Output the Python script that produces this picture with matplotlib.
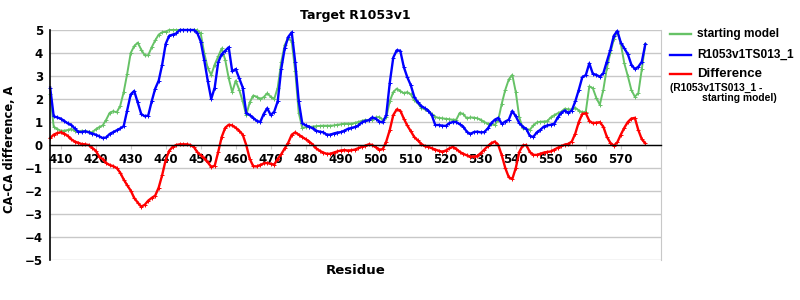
import numpy as np
import matplotlib
matplotlib.use('Agg')
import matplotlib.pyplot as plt
from matplotlib.lines import Line2D

# residue numbers and CA-CA differences
residues = np.arange(407, 578)

starting_model = [
    2.2, 0.8, 0.7, 0.62, 0.62, 0.65, 0.7, 0.62, 0.58, 0.62,
    0.6, 0.58, 0.55, 0.68, 0.78, 0.85, 1.1, 1.4, 1.47, 1.42,
    1.7, 2.3, 3.1, 4.0, 4.3, 4.45, 4.15, 3.9, 3.9, 4.25,
    4.55, 4.8, 4.9, 4.93, 5.0, 5.0, 5.0, 5.0, 5.0, 5.0,
    5.0, 5.0, 5.0, 4.85, 4.0, 3.35, 3.05, 3.5, 3.85, 4.2,
    3.7, 2.9, 2.3, 2.8, 2.4, 1.9, 1.3, 1.85, 2.15, 2.1,
    2.0, 2.08, 2.25, 2.1, 2.0, 2.5, 3.6, 4.35, 4.65, 4.5,
    3.2, 1.4, 0.75, 0.77, 0.78, 0.8, 0.82, 0.83, 0.84, 0.84,
    0.84, 0.85, 0.88, 0.9, 0.93, 0.93, 0.93, 0.96, 1.0, 1.05,
    1.09, 1.07, 1.1, 1.2, 1.22, 1.1, 1.2, 1.9, 2.3, 2.45,
    2.35, 2.25, 2.3, 2.2, 1.95, 1.82, 1.62, 1.55, 1.48, 1.35,
    1.22, 1.18, 1.16, 1.14, 1.12, 1.1, 1.1, 1.4, 1.35, 1.16,
    1.2, 1.19, 1.16, 1.1, 1.0, 0.93, 0.9, 0.87, 1.1, 1.8,
    2.4, 2.85, 3.05, 2.3, 1.2, 0.72, 0.7, 0.66, 0.85, 0.98,
    1.01, 1.02, 1.04, 1.2, 1.3, 1.38, 1.45, 1.58, 1.55, 1.55,
    1.62, 1.5, 1.42, 1.45, 2.55, 2.47, 2.05, 1.75, 2.4, 3.33,
    4.0, 4.6, 4.93, 4.4, 3.55, 3.0, 2.4, 2.1, 2.25, 3.3,
    4.4,
]

model_ts013 = [
    2.5, 1.25, 1.2, 1.15, 1.05, 0.94, 0.88, 0.72, 0.58, 0.56,
    0.6, 0.55, 0.5, 0.45, 0.38, 0.3, 0.33, 0.48, 0.56, 0.64,
    0.72, 0.82, 1.5, 2.2, 2.35, 1.85, 1.35, 1.25, 1.28, 1.9,
    2.45, 2.8, 3.5, 4.4, 4.75, 4.8, 4.85, 5.0, 5.0, 5.0,
    5.0, 5.0, 4.88, 4.5, 3.7, 2.8, 2.0, 2.5, 3.6, 3.95,
    4.1, 4.25, 3.2, 3.3, 2.9, 2.5, 1.4, 1.3, 1.18, 1.05,
    1.0, 1.35, 1.6, 1.3, 1.45, 1.9, 3.3, 4.2, 4.7, 4.9,
    3.6, 1.9, 0.95, 0.85, 0.8, 0.72, 0.62, 0.58, 0.55, 0.45,
    0.45, 0.5, 0.54, 0.56, 0.62, 0.7, 0.74, 0.78, 0.85, 0.98,
    1.05, 1.08, 1.2, 1.15, 1.02, 0.98, 1.3, 2.7, 3.8, 4.12,
    4.1, 3.4, 2.95, 2.6, 2.1, 1.85, 1.7, 1.6, 1.5, 1.3,
    0.87, 0.87, 0.84, 0.83, 0.95, 1.0, 1.0, 0.9, 0.8, 0.58,
    0.48, 0.56, 0.58, 0.55, 0.56, 0.72, 0.95, 1.1, 1.18, 0.92,
    1.02, 1.1, 1.48, 1.25, 0.95, 0.8, 0.7, 0.4, 0.35, 0.55,
    0.66, 0.8, 0.85, 0.88, 0.93, 1.2, 1.4, 1.5, 1.4, 1.5,
    1.9, 2.4, 2.95, 3.04, 3.55, 3.1, 3.05, 2.97, 3.12, 3.62,
    4.13, 4.75, 4.96, 4.45, 4.2, 3.95, 3.5, 3.3, 3.4, 3.62,
    4.38,
]

difference = [
    0.3, 0.45, 0.52, 0.55, 0.5, 0.4, 0.25, 0.15, 0.1, 0.04,
    0.03, 0.0, -0.12, -0.25, -0.5, -0.62, -0.78, -0.87, -0.92, -1.0,
    -1.2, -1.5, -1.75, -1.98, -2.3, -2.5, -2.68, -2.6, -2.42, -2.3,
    -2.2, -1.85, -1.3, -0.65, -0.25, -0.08, 0.0, 0.03, 0.03, 0.03,
    0.0, -0.08, -0.3, -0.45, -0.58, -0.75, -0.95, -0.9, -0.3, 0.35,
    0.75, 0.88, 0.85, 0.75, 0.62, 0.45, 0.0, -0.6, -0.92, -0.93,
    -0.87, -0.8, -0.78, -0.82, -0.85, -0.6, -0.4, -0.15, 0.1, 0.45,
    0.55, 0.45, 0.35, 0.25, 0.15, 0.02, -0.15, -0.25, -0.33, -0.38,
    -0.38, -0.33, -0.28, -0.24, -0.22, -0.24, -0.23, -0.2, -0.14, -0.08,
    -0.03, 0.03, 0.0, -0.1, -0.2, -0.18, 0.15, 0.65, 1.3, 1.55,
    1.5, 1.15, 0.85, 0.6, 0.35, 0.2, 0.05, -0.05, -0.08, -0.14,
    -0.2, -0.25, -0.29, -0.24, -0.15, -0.08, -0.17, -0.3, -0.38, -0.45,
    -0.5, -0.5, -0.48, -0.35, -0.2, -0.05, 0.08, 0.15, 0.0, -0.45,
    -1.0, -1.4, -1.48, -1.0, -0.3, -0.02, 0.0, -0.3, -0.43, -0.43,
    -0.38, -0.33, -0.3, -0.28, -0.2, -0.12, -0.05, 0.02, 0.05, 0.15,
    0.5, 1.0, 1.35, 1.38, 1.05, 0.95, 0.97, 0.99, 0.8, 0.36,
    0.1, -0.03, 0.12, 0.45, 0.75, 1.0, 1.15, 1.18, 0.65, 0.25,
    0.07,
]

xticks = np.arange(410, 580, 10)
yticks = np.arange(-5, 6, 1)

green = '#66c266'
blue = '#0000ff'
red = '#ff0000'
grid_grey = '#c8c8c8'

fig = plt.figure(figsize=(8, 3), dpi=100)
ax = fig.add_axes([0.0625, 0.1333, 0.7634, 0.7667])

ax.plot(residues, starting_model, color=green, lw=1.4, marker='+', ms=2.5,
        mew=0.7, clip_on=False)
ax.plot(residues, model_ts013, color=blue, lw=1.7, marker='+', ms=2.5,
        mew=0.7, clip_on=False)
ax.plot(residues, difference, color=red, lw=1.7, marker='+', ms=2.5,
        mew=0.7, clip_on=False)

ax.set_xlim(406.95, 581.4)
ax.set_ylim(-5, 5)

# frame: black y axis and zero line, grey box
ax.spines['left'].set_color('black')
ax.spines['left'].set_linewidth(1.2)
ax.spines['bottom'].set_position(('data', 0))
ax.spines['bottom'].set_color('black')
ax.spines['bottom'].set_linewidth(1.0)
ax.spines['right'].set_color(grid_grey)
ax.spines['top'].set_visible(False)

ax.set_yticks(yticks)
ax.yaxis.grid(True, color=grid_grey, lw=1.0)
ax.set_axisbelow(True)
ax.tick_params(axis='y', length=0, pad=5, labelsize=8.5)
ax.set_xticks(xticks)
ax.tick_params(axis='x', length=3, color=grid_grey, pad=3, labelsize=8.5)
for lab in ax.get_xticklabels() + ax.get_yticklabels():
    lab.set_fontweight('bold')

ax.set_title('Target R1053v1', fontsize=9, fontweight='bold', pad=8)
ax.set_ylabel('CA-CA difference, A', fontsize=8.3, fontweight='bold')
ax.yaxis.set_label_coords(-0.056, 0.48)
fig.text(0.444, 0.1, 'Residue', ha='center', va='center',
         fontsize=9.5, fontweight='bold')

# legend drawn by hand on the right
leg_font = 'Liberation Sans'
for ypix, col in [(34, green), (55, blue), (74, red)]:
    yf = 1 - ypix / 300
    fig.add_artist(Line2D([670 / 800, 691 / 800], [yf, yf], color=col,
                          lw=1.7, transform=fig.transFigure))
fig.text(697 / 800, 1 - 34 / 300, 'starting model', family=leg_font,
         fontsize=8.6, fontweight='bold', va='center')
fig.text(697 / 800, 1 - 55 / 300, 'R1053v1TS013_1', family=leg_font,
         fontsize=8.6, fontweight='bold', va='center')
fig.text(697 / 800, 1 - 74 / 300, 'Difference', family=leg_font,
         fontsize=9.5, fontweight='bold', va='center')
fig.text(670 / 800, 1 - 88 / 300, '(R1053v1TS013_1 -', family=leg_font,
         fontsize=7.4, fontweight='bold', va='center')
fig.text(702 / 800, 1 - 98 / 300, 'starting model)', family=leg_font,
         fontsize=7.4, fontweight='bold', va='center')

plt.savefig('out.png', dpi=100)
